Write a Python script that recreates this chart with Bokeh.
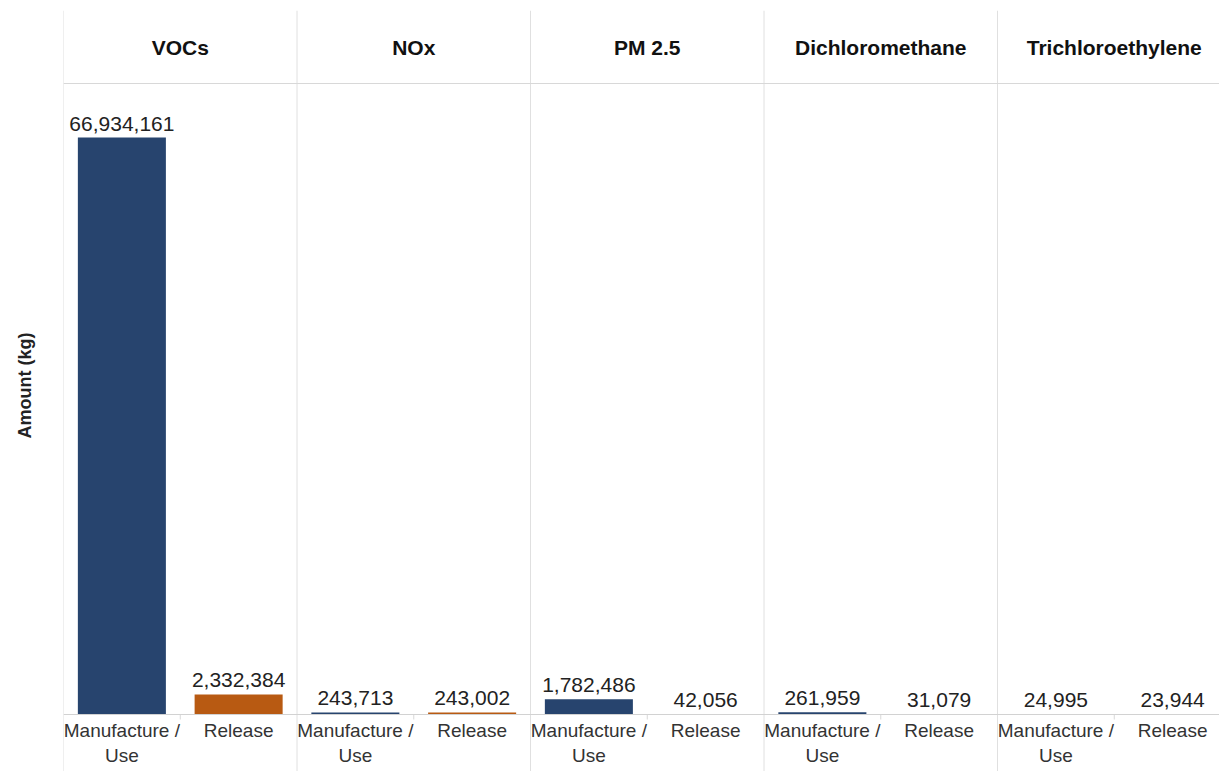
from bokeh.plotting import figure
from bokeh.models import ColumnDataSource, Range1d, Span
from bokeh.layouts import row
from bokeh.core.properties import value
from bokeh.embed import file_html
from bokeh.resources import INLINE

# Emissions by pollutant and life-cycle stage (kg)
pollutants = ["VOCs", "NOx", "PM 2.5", "Dichloromethane", "Trichloroethylene"]
stages = ["Manufacture / Use", "Release"]
stage_labels = ["Manufacture /\nUse", "Release"]
manufacture_use = [66934161, 243713, 1782486, 261959, 24995]
release = [2332384, 243002, 42056, 31079, 23944]
axis_max = 73_200_000  # top of the value axis
y_title = "Amount (kg)"

stage_colors = ["#27446e", "#b85a12"]
FONT = "Liberation Sans"

# layout (pixels)
W, H = 1219, 771
LEFT, TOP = 63, 10
HEAD_H, PLOT_H, FOOT_H = 73, 631, 57
SLOT_PX = 116.75
kg_per_px = axis_max / PLOT_H

# one slot per (pollutant, stage) pair
xs, tops, colors, vlabels, clabels = [], [], [], [], []
for i, pol in enumerate(pollutants):
    for j, vals in enumerate([manufacture_use, release]):
        xs.append(2 * i + j + 0.5)
        tops.append(vals[i])
        colors.append(stage_colors[j])
        vlabels.append(f"{vals[i]:,}")
        clabels.append(stage_labels[j])

src = ColumnDataSource(dict(
    x=xs, top=tops, color=colors, vlabel=vlabels, clabel=clabels,
    label_y=[t + 7 * kg_per_px for t in tops],
    cat_y=[-5 * kg_per_px] * len(xs),
))

p = figure(
    width=W - LEFT, height=H, output_backend="svg", toolbar_location=None,
    x_range=Range1d(0, (W - LEFT) / SLOT_PX),
    y_range=Range1d(-FOOT_H * kg_per_px, (PLOT_H + HEAD_H) * kg_per_px),
    x_axis_location=None, y_axis_location=None,
    min_border_left=0, min_border_top=TOP,
    min_border_right=0, min_border_bottom=0,
)
p.outline_line_color = None
p.grid.grid_line_color = None
p.background_fill_color = "white"
p.border_fill_color = "white"

# panel dividers and header rule
for i in range(len(pollutants)):
    p.add_layout(Span(location=2 * i, dimension="height",
                      line_color="#e0e0e0", line_width=1))
p.add_layout(Span(location=PLOT_H * kg_per_px, dimension="width",
                  line_color="#d8d8d8", line_width=1))

# bars
p.vbar(x="x", top="top", bottom=0, width=0.754, color="color",
       line_color=None, source=src)

# baseline and small ticks between stages
p.add_layout(Span(location=0, dimension="width",
                  line_color="#d2d2d2", line_width=1))
p.segment(x0=[2 * i + 1 for i in range(len(pollutants))],
          y0=[0] * len(pollutants),
          x1=[2 * i + 1 for i in range(len(pollutants))],
          y1=[-5 * kg_per_px] * len(pollutants),
          line_color="#d8d8d8", line_width=1)

# value labels
p.text(x="x", y="label_y", text="vlabel", source=src,
       text_font=value(FONT), text_font_size="21px", text_color="#222222",
       text_align="center", text_baseline="bottom")

# stage labels under each bar
p.text(x="x", y="cat_y", text="clabel", source=src,
       text_font=value(FONT), text_font_size="19px", text_color="#333333",
       text_align="center", text_baseline="top", text_line_height=1.2)

# pollutant headers
p.text(x=[2 * i + 1 for i in range(len(pollutants))],
       y=[(PLOT_H + HEAD_H / 2) * kg_per_px] * len(pollutants),
       text=pollutants, text_font=value(FONT), text_font_size="21px",
       text_font_style="bold", text_color="#111111",
       text_align="center", text_baseline="middle")

# narrow strip on the left carrying the value-axis title (pixel coordinates)
side = figure(
    width=LEFT, height=H, output_backend="svg", toolbar_location=None,
    x_range=Range1d(0, LEFT), y_range=Range1d(H, 0),
    x_axis_location=None, y_axis_location=None, min_border=0,
)
side.outline_line_color = None
side.grid.grid_line_color = None
side.text(x=[24], y=[380], text=[y_title], angle=90, angle_units="deg",
          text_font=value(FONT), text_font_size="18px",
          text_font_style="bold", text_color="#222222",
          text_align="center", text_baseline="middle")

layout = row(side, p, spacing=0)
open("out.html", "w").write(file_html(layout, INLINE))
